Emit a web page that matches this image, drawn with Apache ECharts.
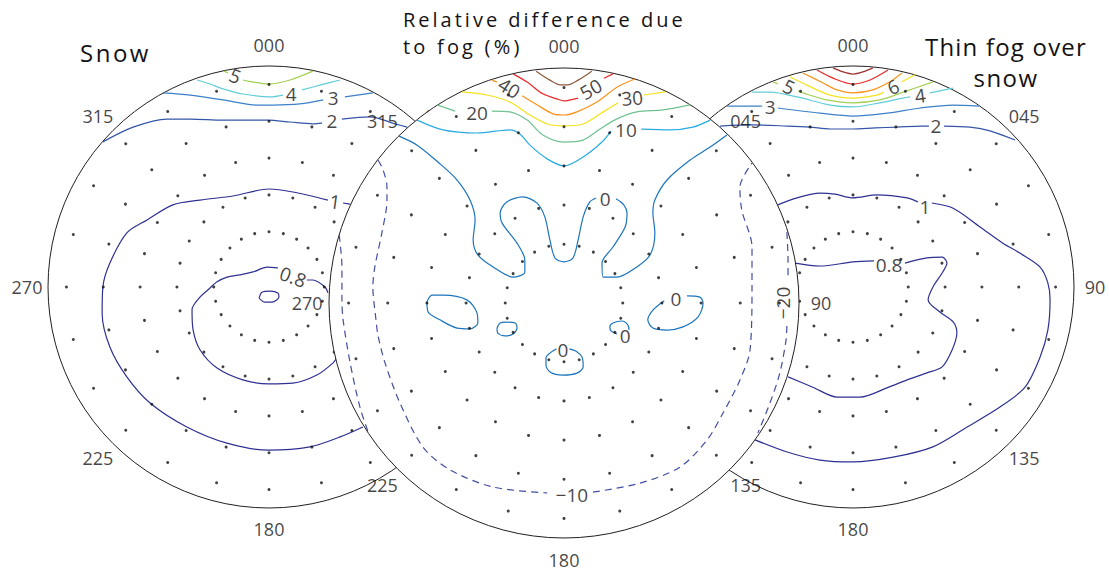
<!DOCTYPE html>
<html>
<head>
<meta charset="utf-8">
<script src="https://cdn.jsdelivr.net/npm/echarts@6/dist/echarts.min.js"></script>
<style>
  html, body { margin: 0; padding: 0; background: #ffffff; }
  #chart { width: 1109px; height: 572px; }
</style>
</head>
<body>
<div id="chart"></div>
<script>
// ---------------------------------------------------------------------------
// Azimuth ticks (degrees clockwise from north) and their printed names
const azimuthTicks = [0, 45, 90, 135, 180, 225, 270, 315];
const azimuthNames = ['000', '045', '90', '135', '180', '225', '270', '315'];

// Measurement grid: view zenith rings (deg) and azimuth steps (deg)
const sampleZenith = [15, 25, 35, 45, 55];
const sampleAzimuth = [0, 15, 30, 45, 60, 75, 90, 105, 120, 135, 150, 165,
                       180, 195, 210, 225, 240, 255, 270, 285, 300, 315, 330, 345];

// Contour lines. Points are [east, north] = zenith * (sin az, cos az), in
// degrees of view zenith; the plot edge is at 60 deg.
// --- Snow (reflectance factor)
const snowLines = [
  { level: 5, parts: [
    [[-12.2, 58.6], [-11.1, 58.1]],
    [[-7.1, 56.2], [-5.7, 55.9], [0, 55.1], [5.7, 56.2], [11.9, 58.6]] ] },
  { level: 4, parts: [
    [[-19.5, 56.2], [-16.0, 55.1], [-12.5, 53.8], [-7.1, 52.4], [0.3, 51.6], [3.8, 52.1]],
    [[9.0, 53.5], [13.8, 54.8], [19.3, 56.2]] ] },
  { level: 3, parts: [
    [[-28.8, 52.7], [-21.4, 52.1], [-12.5, 50.8], [-3.3, 49.4], [1.1, 49.4], [8.4, 49.7], [14.7, 50.8]],
    [[20.6, 51.6], [28.2, 52.7]] ] },
  { level: 2, parts: [
    [[-45.1, 39.4], [-36.9, 43.4], [-27.7, 45.6], [-21.4, 45.6], [-12.5, 45.3], [-0.3, 45.3], [5.7, 44.8], [11.9, 44.3], [14.4, 44.5]],
    [[19.8, 45.6], [27.4, 46.2], [34.2, 44.3], [37.5, 43.4]] ] },
  { level: 1, parts: [
    [[22.0, 22.5], [20.1, 22.8]],
    [[16.0, 23.6], [6.5, 25.8], [0, 26.6], [-9.8, 24.7], [-18.7, 23.6], [-26.1, 22.3], [-33.1, 18.2],
     [-38.6, 14.7], [-43.2, 6.5], [-45.1, 0], [-45.3, -7.1], [-43.2, -16.3], [-38.6, -24.4],
     [-32.3, -31.5], [-22.3, -38.0], [-11.4, -42.4], [0, -44.3], [11.1, -43.4], [19.3, -40.7], [25.5, -38.0]] ] },
  { level: 0.8, parts: [
    [[16.0, -1.6], [15.2, 0], [11.9, 1.9], [10.3, 1.9]],
    [[2.4, 5.2], [-0.5, 5.4], [-4.3, 4.1], [-7.9, 3.3], [-11.4, 2.7], [-14.1, 1.4], [-16.6, -0.8],
     [-18.7, -2.7], [-20.9, -6.2], [-20.6, -11.7], [-18.7, -17.1], [-14.1, -22.0], [-7.1, -25.2],
     [0, -26.3], [6.5, -26.1], [13.0, -23.9], [17.4, -20.6], [18.5, -19.0]],
    [[-2.7, -3.0], [-1.9, -1.4], [0.3, -1.1], [2.4, -1.6], [2.7, -2.7], [0.8, -4.1], [-1.1, -4.1], [-2.7, -3.0]] ] }
];
const snowLabels = [
  { level: 5, at: [-9.2, 57.3] }, { level: 4, at: [6.0, 52.4] }, { level: 3, at: [17.4, 51.3] },
  { level: 2, at: [17.1, 45.0] }, { level: 1, at: [17.9, 23.1] }, { level: 0.8, at: [6.5, 2.7] }
];

// --- Relative difference due to fog (%)
const relLines = [
  { level: 60, parts: [
    [[-7.1, 59.2], [-3.6, 56.9], [-1.0, 55.7], [1.0, 55.7], [3.6, 56.9], [7.1, 59.2]] ] },
  { level: 50, parts: [
    [[-13.0, 58.5], [-9.4, 56.4], [-5.4, 53.4], [-1.8, 52.1], [0, 51.6], [2.8, 52.1], [3.6, 52.3]],
    [[10.2, 57.4], [12.5, 58.5]] ] },
  { level: 40, parts: [
    [[-18.4, 56.9], [-17.1, 56.4]],
    [[-10.7, 52.9], [-6.9, 50.6], [-2.8, 48.3], [0, 48.0], [3.3, 48.8], [8.4, 51.3], [13.5, 55.1], [18.1, 57.2]] ] },
  { level: 30, parts: [
    [[-26.0, 53.9], [-19.7, 53.1], [-13.8, 51.3], [-8.7, 48.0], [-4.3, 45.7], [0, 45.2], [4.9, 45.7], [10.0, 48.8], [13.8, 51.1]],
    [[20.4, 53.1], [25.8, 53.9]] ] },
  { level: 20, parts: [
    [[-32.4, 50.6], [-27.8, 49.0]],
    [[-18.4, 49.0], [-13.8, 48.8], [-9.4, 46.7], [-5.4, 42.9], [0, 41.1], [4.9, 41.6], [9.2, 44.4],
     [13.5, 47.0], [18.6, 48.8], [25.3, 49.3], [32.2, 50.6]] ] },
  { level: 10, parts: [
    [[-37.5, 46.7], [-30.9, 44.2], [-22.2, 43.4], [-13.8, 44.2], [-11.2, 43.1], [-8.7, 40.3], [-4.3, 36.8],
     [0, 35.0], [4.9, 37.3], [9.7, 41.1], [12.0, 43.9]],
    [[19.7, 44.4], [27.1, 44.2], [32.9, 44.9], [37.3, 46.7]] ] },
  { level: 0, parts: [
    [[-42.1, 42.6], [-37.5, 40.3], [-32.2, 36.0], [-27.3, 31.4], [-24.0, 26.3], [-22.7, 21.2], [-23.2, 16.1],
     [-22.0, 12.3], [-18.1, 9.2], [-13.0, 6.6], [-10.0, 7.9], [-10.0, 11.0], [-12.0, 15.3], [-15.8, 20.4],
     [-16.3, 23.0], [-14.6, 25.8], [-10.5, 27.1], [-6.9, 25.5], [-4.9, 22.0], [-3.6, 16.1], [-2.3, 11.5],
     [0, 10.5], [2.3, 11.5], [3.6, 16.1], [4.9, 22.0], [6.6, 25.8], [8.2, 26.8]],
    [[13.3, 26.6], [15.3, 25.0], [16.1, 23.0], [15.6, 19.4], [12.5, 14.3], [9.7, 10.2], [10.0, 6.6],
     [13.5, 6.6], [18.6, 9.2], [22.0, 12.3], [23.2, 17.9], [22.7, 23.0], [23.2, 26.3], [26.3, 31.4],
     [32.2, 36.5], [37.3, 39.8], [41.6, 42.9]],
    [[-35.0, 0.3], [-33.7, 2.0], [-30.9, 2.0], [-24.8, 0.8], [-22.2, -2.6], [-22.0, -5.1], [-24.0, -6.6],
     [-27.3, -6.4], [-31.7, -4.3], [-34.7, -2.3], [-35.0, 0.3]],
    [[-17.1, -6.4], [-16.3, -5.1], [-14.6, -4.9], [-12.5, -5.1], [-12.0, -6.4], [-13.0, -7.9], [-15.1, -8.4],
     [-16.9, -7.7], [-17.1, -6.4]],
    [[1.4, -11.7], [3.1, -12.3], [4.6, -13.8], [4.9, -16.3], [3.3, -17.9], [-0.3, -18.4], [-3.6, -17.6],
     [-4.6, -15.8], [-4.6, -14.0], [-3.6, -12.8], [-1.9, -11.7]],
    [[16.6, -6.9], [16.3, -5.6], [14.8, -4.6], [12.5, -5.1], [11.7, -6.1], [12.0, -7.1], [13.5, -7.9]],
    [[31.4, 1.8], [34.7, 1.5], [35.5, 0], [34.2, -3.6], [30.4, -6.1], [26.3, -6.9], [22.7, -6.4],
     [21.4, -4.3], [22.7, -1.8], [25.6, 0.6]] ] },
  { level: -10, parts: [
    [[-47.5, 36.5], [-46.2, 34.0], [-45.2, 29.6], [-45.2, 26.3], [-46.5, 17.9], [-48.3, 9.2], [-48.8, 4.1],
     [-48.0, -4.3], [-47.5, -8.2], [-45.7, -15.3], [-41.9, -25.5], [-36.0, -36.8], [-29.1, -42.6],
     [-18.1, -47.0], [-4.3, -48.5]],
    [[7.4, -48.3], [19.4, -46.0], [29.6, -41.9], [36.5, -35.0], [40.6, -28.1], [44.9, -19.7], [47.5, -12.0],
     [48.0, 4.1], [48.0, 14.3], [45.4, 23.7], [44.9, 29.6], [48.0, 35.7]] ] },
  { level: -20, parts: [
    [[-57.4, 17.4], [-56.7, 9.2], [-56.7, 0.8], [-56.4, -4.3], [-54.6, -15.3], [-52.1, -26.6], [-50.0, -32.9]],
    [[56.9, 18.1], [57.2, 11.0], [57.2, 5.9]],
    [[56.9, -5.9], [56.7, -9.4], [55.1, -17.9], [52.6, -25.5], [49.5, -33.2]] ] }
];
const relLabels = [
  { level: 50, at: [6.9, 54.6] }, { level: 40, at: [-14.0, 54.9] }, { level: 30, at: [17.4, 52.3] },
  { level: 20, at: [-22.2, 48.5] }, { level: 10, at: [15.8, 44.2] },
  { level: 0, at: [10.5, 26.6] }, { level: 0, at: [-0.3, -11.9] }, { level: 0, at: [15.6, -8.4] },
  { level: 0, at: [28.6, 1.0] }, { level: -10, at: [2.0, -49.0] }, { level: -20, at: [55.9, 0] }
];

// --- Thin fog over snow (reflectance factor)
const fogLines = [
  { level: 9, parts: [[[-5.4, 59.5], [-2.7, 58.4], [0, 57.8], [2.7, 58.4], [5.4, 59.5]]] },
  { level: 8, parts: [[[-9.8, 58.9], [-5.4, 56.7], [0, 55.1], [4.6, 56.2], [9.5, 58.9]]] },
  { level: 7, parts: [[[-13.6, 58.1], [-8.1, 55.4], [-4.3, 53.5], [0, 52.7], [5.4, 53.5], [10.0, 55.7], [13.3, 58.1]]] },
  { level: 6, parts: [
    [[-17.1, 57.0], [-12.5, 54.8], [-6.2, 52.1], [0, 51.3], [6.5, 52.1], [8.4, 52.9]],
    [[13.3, 55.7], [16.8, 57.6]] ] },
  { level: 5, parts: [
    [[-21.7, 55.7], [-20.4, 55.1]],
    [[-14.9, 53.2], [-13.6, 52.7], [-7.1, 50.8], [0, 50.0], [7.3, 50.8], [13.6, 52.9], [21.7, 55.7]] ] },
  { level: 4, parts: [
    [[-27.4, 52.9], [-22.5, 52.9], [-15.2, 51.6], [-6.2, 49.4], [0, 48.9], [7.3, 50.0], [13.6, 51.3], [15.5, 51.6]],
    [[20.9, 52.7], [27.2, 54.0]] ] },
  { level: 3, parts: [
    [[-34.2, 49.1], [-24.7, 49.1]],
    [[-20.4, 48.6], [-9.0, 47.2], [0, 46.4], [9.2, 47.2], [18.2, 48.6], [27.2, 49.4], [34.2, 49.1]] ] },
  { level: 2, parts: [
    [[-36.1, 43.7], [-27.2, 44.0], [-17.9, 43.7], [-11.7, 43.4], [-6.2, 42.9], [0, 42.9], [6.0, 43.2],
     [11.9, 43.4], [18.7, 43.7], [20.6, 43.7]],
    [[24.7, 43.7], [31.8, 43.4], [37.2, 42.4], [44.0, 39.9]] ] },
  { level: 1, parts: [
    [[-20.4, 22.3], [-15.2, 24.2], [-9.0, 25.5], [-4.9, 25.2], [0, 24.2], [6.5, 25.0], [14.7, 24.2], [17.6, 23.1]],
    [[21.4, 22.8], [27.2, 21.4], [34.5, 16.3], [40.7, 11.9], [45.3, 9.2], [50.8, 5.4], [52.9, 1.1],
     [53.5, -3.5], [52.9, -11.7], [50.8, -19.0], [46.7, -27.2], [39.9, -32.6], [31.0, -38.0],
     [21.7, -43.4], [10.9, -46.2], [0, -47.5], [-9.0, -47.0], [-17.9, -44.8], [-26.6, -41.5]] ] },
  { level: 0.8, parts: [
    [[-15.7, 6.5], [-9.0, 5.7], [0, 6.8], [5.7, 7.1]],
    [[14.1, 6.5], [20.1, 7.9], [24.2, 8.1], [25.5, 6.5], [24.2, 3.8], [21.7, 0], [20.4, -3.5], [23.6, -6.8],
     [27.2, -9.5], [28.2, -12.5], [26.9, -17.1], [24.2, -21.7], [20.1, -23.3], [14.7, -25.2], [9.2, -27.4],
     [1.9, -29.9], [-4.3, -29.9], [-10.9, -27.2], [-17.6, -24.4]] ] }
];
const fogLabels = [
  { level: 6, at: [10.9, 54.3] }, { level: 5, at: [-17.4, 54.3] }, { level: 4, at: [18.2, 51.9] },
  { level: 3, at: [-22.5, 48.9] }, { level: 2, at: [22.5, 43.7] }, { level: 1, at: [19.5, 21.7] },
  { level: 0.8, at: [9.8, 6.0] }
];

// ---------------------------------------------------------------------------
// Styling
const FONT = "'Open Sans', 'Noto Sans', sans-serif";
const INK = '#231f20';
const TEXT_INK = '#141213';
const ZENITH_EDGE = 60;

const sideColors = {
  0.8: '#2e3192', 1: '#2e3192', 2: '#3455a8', 3: '#3b80c8', 4: '#62cdd8',
  5: '#a4cf52', 6: '#f5e31c', 7: '#f7941d', 8: '#ea2a2a', 9: '#9d2f2f'
};
const relColors = {
  60: '#8c5a3a', 50: '#ea2a2a', 40: '#f7941d', 30: '#f5e11b', 20: '#6fc290',
  10: '#2aabe2', 0: '#1c75bc', '-10': '#414ea3', '-20': '#414ea3'
};
// label tilt (deg, anticlockwise) so the numbers follow their line
const snowTilt = { 5: -22, 1: -8, 0.8: -20 };
const relTilt = { 50: 30, 40: -32, 30: 5, '-20': 90 };
const fogTilt = { 5: -25, 6: 25, 4: 8 };

const plots = [
  { key: 'snow', cx: 269, cy: 287, r: 221, tickRing: 65.7, lines: snowLines, labels: snowLabels,
    colors: sideColors, tilt: snowTilt, z: 1 },
  { key: 'rel', cx: 564, cy: 303, r: 235, tickRing: 65.6, lines: relLines, labels: relLabels,
    colors: relColors, tilt: relTilt, z: 6 },
  { key: 'fog', cx: 853, cy: 287, r: 221, tickRing: 65.7, lines: fogLines, labels: fogLabels,
    colors: sideColors, tilt: fogTilt, z: 1 }
];

const levelText = v => String(v).replace('-', '\u2212');

const polar = plots.map(p => ({ center: [p.cx, p.cy], radius: p.r }));
const angleAxis = plots.map((p, i) => ({
  polarIndex: i, type: 'value', min: 0, max: 360, startAngle: 90, clockwise: true, z: p.z,
  axisLine: { show: true, lineStyle: { color: INK, width: 1 } },
  axisTick: { show: false }, axisLabel: { show: false }, splitLine: { show: false }
}));
const radiusAxis = plots.map((p, i) => ({
  polarIndex: i, type: 'value', min: 0, max: ZENITH_EDGE, show: false,
  axisLine: { show: false }, axisLabel: { show: false }, splitLine: { show: false }
}));
const grid = plots.map(p => ({
  left: p.cx - p.r, top: p.cy - p.r, width: 2 * p.r, height: 2 * p.r, show: false
}));
const xAxis = plots.map((p, i) => ({ gridIndex: i, type: 'value', min: -ZENITH_EDGE, max: ZENITH_EDGE, show: false }));
const yAxis = plots.map((p, i) => ({ gridIndex: i, type: 'value', min: -ZENITH_EDGE, max: ZENITH_EDGE, show: false }));

const dotData = [];
sampleZenith.forEach(zen => sampleAzimuth.forEach(az => dotData.push([zen, az])));

const series = [];
plots.forEach((p, i) => {
  if (p.key === 'rel') {
    // opaque disc so the centre plot sits on top of its neighbours
    series.push({
      type: 'pie', center: [p.cx, p.cy], radius: [0, p.r], z: p.z - 1, silent: true,
      label: { show: false }, labelLine: { show: false }, emphasis: { disabled: true },
      itemStyle: { borderWidth: 0 },
      data: [{ value: 1, itemStyle: { color: '#ffffff' } }]
    });
  }
  // sampling points
  series.push({
    type: 'scatter', coordinateSystem: 'polar', polarIndex: i, data: dotData,
    symbol: 'circle', symbolSize: 3, itemStyle: { color: '#111111' }, silent: true, z: p.z + 1
  });
  // contour lines
  p.lines.forEach(line => {
    line.parts.forEach(part => {
      series.push({
        type: 'line', xAxisIndex: i, yAxisIndex: i, data: part,
        showSymbol: false, symbol: 'none', smooth: 0.3, silent: true, z: p.z + 1,
        lineStyle: {
          color: p.colors[line.level], width: 1.2,
          type: line.level < 0 ? [7, 5] : 'solid'
        }
      });
    });
  });
  // contour values
  series.push({
    type: 'scatter', xAxisIndex: i, yAxisIndex: i, symbolSize: 1, silent: true, z: p.z + 2,
    clip: false, itemStyle: { color: 'rgba(0,0,0,0)' },
    data: p.labels.map(l => ({
      value: l.at,
      label: { formatter: levelText(l.level), rotate: p.tilt[l.level] || 0 }
    })),
    label: { show: true, position: 'inside', fontFamily: FONT, fontSize: 19, lineHeight: 17, color: TEXT_INK }
  });
  // azimuth names round the rim
  series.push({
    type: 'scatter', coordinateSystem: 'polar', polarIndex: i, symbolSize: 1, silent: true, z: p.z + 2,
    clip: false, itemStyle: { color: 'rgba(0,0,0,0)' },
    data: azimuthTicks.map((az, j) => ({ name: azimuthNames[j], value: [p.tickRing, az] })),
    label: { show: true, position: 'inside', formatter: '{b}', fontFamily: FONT, fontSize: 18,
             lineHeight: 16, color: TEXT_INK }
  });
});

const titleStyle = { fontFamily: FONT, fontWeight: 'normal', color: TEXT_INK };
const option = {
  animation: false,
  backgroundColor: '#ffffff',
  title: [
    { text: 'Snow', left: 80, top: 37, padding: 0,
      textStyle: Object.assign({ fontSize: 24, lineHeight: 30 }, titleStyle) },
    { text: 'Relative difference due\nto fog (%)', left: 403, top: 6, padding: 0,
      textStyle: Object.assign({ fontSize: 20, lineHeight: 27 }, titleStyle) },
    { text: 'Thin fog over\nsnow', left: 1006, textAlign: 'center', top: 31, padding: 0,
      textStyle: Object.assign({ fontSize: 24, lineHeight: 31 }, titleStyle) }
  ],
  polar, angleAxis, radiusAxis, grid, xAxis, yAxis, series
};

const chart = echarts.init(document.getElementById('chart'), null, { renderer: 'svg' });
chart.setOption(option);

// spaced lettering for the panel titles
const titleSpacing = {
  'Snow': 2.5, 'Relative difference due': 3, 'to fog (%)': 3.2, 'Thin fog over': 1.2, 'snow': 1.4
};
function spaceTitles() {
  document.querySelectorAll('#chart text').forEach(t => {
    const s = titleSpacing[t.textContent];
    if (s !== undefined) t.setAttribute('letter-spacing', s + 'px');
  });
}
chart.on('finished', spaceTitles);
spaceTitles();
setTimeout(spaceTitles, 50);
</script>
</body>
</html>
